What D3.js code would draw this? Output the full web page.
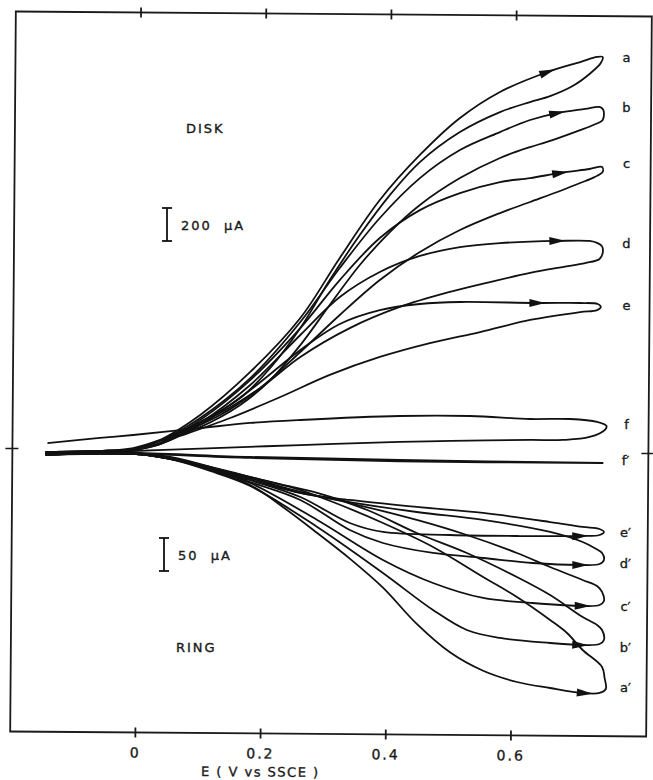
<!DOCTYPE html>
<html>
<head>
<meta charset="utf-8">
<script src="https://cdn.jsdelivr.net/npm/d3@7/dist/d3.min.js"></script>
<style>
  body { margin: 0; background: #fff; }
  svg text { font-family: 'DejaVu Sans', sans-serif; fill: #1a1a1a; stroke: #1a1a1a; stroke-width: 0.35px; }
</style>
</head>
<body>
<svg id="chart" width="653" height="780"></svg>
<script>
// E in V vs SSCE, current in uA. Each loop: forward scan, then the return scan.
const diskA = [[-0.148, -12], [-0.061, -6], [-0.008, 12], [0.035, 67], [0.099, 218], [0.179, 479], [0.259, 806], [0.322, 1170], [0.386, 1521], [0.450, 1794], [0.514, 2018], [0.578, 2176], [0.654, 2297], [0.706, 2357], [0.733, 2388], [0.742, 2388], [0.739, 2351],
  [0.721, 2285], [0.694, 2212], [0.658, 2151], [0.626, 2115], [0.578, 2054], [0.514, 1933], [0.450, 1751], [0.402, 1551], [0.354, 1309], [0.306, 1036], [0.259, 745], [0.211, 503], [0.163, 321], [0.099, 176], [0.035, 67], [-0.008, 18], [-0.061, 0], [-0.148, -6]]
const diskB = [[-0.148, -12], [-0.061, -6], [-0.008, 12], [0.035, 61], [0.099, 200], [0.179, 442], [0.259, 782], [0.322, 1109], [0.386, 1412], [0.450, 1654], [0.514, 1824], [0.578, 1933], [0.626, 2006], [0.669, 2048], [0.714, 2073], [0.737, 2085], [0.743, 2067], [0.742, 2006],
  [0.727, 1976], [0.706, 1945], [0.653, 1873], [0.626, 1842], [0.578, 1776], [0.514, 1654], [0.450, 1491], [0.402, 1327], [0.354, 1127], [0.306, 885], [0.259, 642], [0.211, 430], [0.163, 279], [0.099, 145], [0.035, 61], [-0.008, 12], [-0.061, 0], [-0.148, -6]]
const diskC = [[-0.148, -18], [-0.061, -6], [-0.008, 6], [0.035, 48], [0.099, 188], [0.179, 430], [0.259, 745], [0.322, 1036], [0.386, 1291], [0.450, 1460], [0.514, 1563], [0.578, 1630], [0.626, 1654], [0.674, 1685], [0.721, 1709], [0.741, 1721], [0.742, 1691], [0.729, 1660],
  [0.706, 1624], [0.678, 1582], [0.626, 1509], [0.578, 1442], [0.514, 1339], [0.450, 1206], [0.386, 1036], [0.322, 824], [0.259, 600], [0.195, 382], [0.131, 218], [0.067, 109], [0.019, 42], [-0.008, 12], [-0.061, 0], [-0.148, -6]]
const diskD = [[-0.148, -18], [-0.061, -12], [-0.008, 6], [0.035, 42], [0.099, 170], [0.179, 400], [0.259, 703], [0.322, 933], [0.386, 1085], [0.450, 1182], [0.514, 1236], [0.578, 1260], [0.669, 1273], [0.721, 1273], [0.734, 1260], [0.741, 1240], [0.742, 1200], [0.737, 1164],
  [0.714, 1139], [0.678, 1115], [0.626, 1079], [0.562, 1024], [0.498, 964], [0.418, 873], [0.338, 745], [0.259, 570], [0.195, 382], [0.131, 230], [0.067, 115], [0.019, 42], [-0.008, 12], [-0.061, 0], [-0.148, -6]]
const diskE = [[-0.148, -18], [-0.061, -12], [-0.008, 6], [0.035, 42], [0.099, 158], [0.179, 370], [0.259, 612], [0.322, 770], [0.386, 854], [0.450, 891], [0.514, 903], [0.637, 897], [0.706, 897], [0.734, 891], [0.739, 873], [0.733, 854],
  [0.706, 842], [0.626, 794], [0.546, 721], [0.466, 654], [0.386, 570], [0.306, 461], [0.227, 327], [0.147, 200], [0.067, 91], [0.019, 30], [-0.008, 12], [-0.061, 0], [-0.148, -6]]
const diskF = [[-0.145, 48], [-0.061, 79], [-0.008, 97], [0.099, 139], [0.179, 170], [0.259, 188], [0.418, 212], [0.530, 212], [0.626, 194], [0.690, 194], [0.733, 176], [0.748, 152], [0.746, 130],
  [0.721, 85], [0.678, 67], [0.626, 67], [0.500, 61], [0.418, 55], [0.259, 36], [0.099, 15], [-0.008, 0], [-0.148, -12]]

const ringA = [[-0.148, -6], [-0.008, -3], [0.051, -10.6], [0.115, -28.8], [0.179, -51.5], [0.231, -84.8], [0.286, -124.2], [0.338, -163], [0.391, -207], [0.445, -262], [0.498, -305], [0.551, -333], [0.605, -350], [0.658, -359.1], [0.710, -366.6], [0.737, -366.6], [0.747, -360.6], [0.745, -343.9],
  [0.741, -327.2], [0.710, -301.5], [0.685, -275.7], [0.658, -256.0], [0.605, -221.2], [0.551, -190.9], [0.471, -145.4], [0.391, -109.1], [0.311, -77.3], [0.243, -54.5], [0.179, -39.4], [0.099, -22.7], [0.035, -9.1], [-0.008, -4.5], [-0.148, -4.5]]
const ringB = [[-0.148, -6], [-0.008, -3], [0.051, -12.1], [0.115, -30.3], [0.179, -53.0], [0.286, -115.1], [0.391, -184.8], [0.471, -240.9], [0.525, -271.2], [0.578, -283.3], [0.658, -290.9], [0.710, -293.9], [0.737, -292.4], [0.744, -286.3], [0.741, -271.2],
  [0.733, -263.6], [0.710, -251.5], [0.658, -218.2], [0.605, -190.9], [0.525, -154.5], [0.445, -124.2], [0.366, -89.4], [0.286, -63.6], [0.211, -47.0], [0.115, -24.2], [0.035, -9.1], [-0.008, -4.5], [-0.148, -4.5]]
const ringC = [[-0.148, -6], [-0.008, -3], [0.051, -10.6], [0.115, -27.3], [0.179, -48.5], [0.286, -104.5], [0.391, -165.1], [0.471, -200.0], [0.551, -222.7], [0.630, -230.3], [0.710, -234.8], [0.737, -233.3], [0.744, -227.3], [0.741, -213.6],
  [0.733, -204.5], [0.710, -195.4], [0.658, -175.7], [0.605, -154.5], [0.525, -127.3], [0.445, -104.5], [0.338, -78.8], [0.259, -62.1], [0.179, -40.9], [0.099, -21.2], [0.035, -9.1], [-0.008, -4.5], [-0.148, -4.5]]
const ringD = [[-0.148, -6], [-0.008, -3], [0.051, -10.6], [0.115, -25.8], [0.179, -47.0], [0.259, -74.2], [0.338, -119.7], [0.391, -139.4], [0.471, -154.5], [0.551, -162.1], [0.630, -169.7], [0.706, -172.7], [0.737, -171.2], [0.744, -165.1], [0.741, -154.5],
  [0.729, -147.0], [0.710, -137.9], [0.658, -122.7], [0.551, -104.5], [0.445, -92.4], [0.338, -77.3], [0.259, -63.6], [0.179, -43.9], [0.099, -21.2], [0.035, -9.1], [-0.008, -4.5], [-0.148, -4.5]]
const ringE = [[-0.148, -6], [-0.008, -3], [0.051, -9.1], [0.115, -24.2], [0.179, -43.9], [0.259, -69.7], [0.338, -109.1], [0.391, -122.7], [0.498, -127.3], [0.605, -128.8], [0.706, -128.8], [0.737, -127.3], [0.744, -122.7], [0.737, -118.2],
  [0.710, -115.1], [0.658, -107.6], [0.551, -93.9], [0.445, -84.8], [0.338, -74.2], [0.259, -63.6], [0.179, -40.9], [0.099, -21.2], [0.035, -9.1], [-0.008, -4.5], [-0.148, -4.5]]
const ringF = [[-0.148, -4.5], [-0.008, -3], [0.179, -9], [0.418, -13.6], [0.742, -18.2], [0.418, -15.5], [0.179, -10.5], [-0.008, -4.5], [-0.148, -5.5]]

// where the arrowheads sit on the forward scans (V)
const diskArrowE = [0.654, 0.669, 0.674, 0.669, 0.637]
const ringArrowE = [0.713, 0.706, 0.710, 0.706, 0.706]

// right-hand curve labels and their current level
const diskLabels = ['a', 'b', 'c', 'd', 'e', 'f']
const diskLabelI = [2388, 2085, 1745, 1260, 885, 158]
const ringLabels = ['f\u2032', 'e\u2032', 'd\u2032', 'c\u2032', 'b\u2032', 'a\u2032']
const ringLabelI = [-14, -124, -170, -236, -297, -358]

const xTicks = [0, 0.2, 0.4, 0.6]
const xTickLabels = ['0', '0.2', '0.4', '0.6']

const svg = d3.select('#chart')
const plotTop = 14
const plotBottom = 734

const xScale = d3.scaleLinear().domain([-0.2, 0.816]).range([13, 649])
const yDisk = d3.scaleLinear().domain([0, 200]).range([451, 418])
const yRing = d3.scaleLinear().domain([0, -50]).range([451, 484])

// the scanned frame sits a little skewed
const frame = svg.append('g').attr('transform', 'rotate(0.45, 331, 374)')
const [x0, x1] = xScale.range()

frame.append('rect')
  .attr('x', x0)
  .attr('y', plotTop)
  .attr('width', x1 - x0)
  .attr('height', plotBottom - plotTop)
  .attr('fill', 'none')
  .attr('stroke', '#1a1a1a')
  .attr('stroke-width', 1.8)

frame.selectAll('line.tick')
  .data(xTicks.flatMap(t => [[t, plotTop], [t, plotBottom]]))
  .enter().append('line')
  .attr('class', 'tick')
  .attr('x1', d => xScale(d[0]))
  .attr('x2', d => xScale(d[0]))
  .attr('y1', d => d[1] - 5)
  .attr('y2', d => d[1] + 5)
  .attr('stroke', '#1a1a1a')
  .attr('stroke-width', 1.8)

// zero marks on both sides
frame.selectAll('line.zero')
  .data([x0, x1])
  .enter().append('line')
  .attr('class', 'zero')
  .attr('x1', d => d - 7)
  .attr('x2', d => d + 6)
  .attr('y1', yDisk(0))
  .attr('y2', yDisk(0))
  .attr('stroke', '#1a1a1a')
  .attr('stroke-width', 1.6)

frame.selectAll('text.tickLabel')
  .data(xTicks)
  .enter().append('text')
  .attr('class', 'tickLabel')
  .attr('x', d => xScale(d))
  .attr('y', plotBottom + 25)
  .attr('text-anchor', 'middle')
  .style('font-size', '14px')
  .style('letter-spacing', '2px')
  .text((d, i) => xTickLabels[i])

frame.append('text')
  .attr('x', xScale(0.2))
  .attr('y', plotBottom + 43)
  .attr('text-anchor', 'middle')
  .style('font-size', '13px')
  .style('letter-spacing', '1.5px')
  .text('E ( V vs SSCE )')

// curves
const lineDisk = d3.line()
  .x(d => xScale(d[0]))
  .y(d => yDisk(d[1]))
  .curve(d3.curveCatmullRom.alpha(0.5))
const lineRing = d3.line()
  .x(d => xScale(d[0]))
  .y(d => yRing(d[1]))
  .curve(d3.curveCatmullRom.alpha(0.5))

const curvesG = svg.append('g')
  .attr('fill', 'none')
  .attr('stroke', '#111')
  .attr('stroke-width', 1.8)
  .attr('stroke-linejoin', 'round')

const diskLoops = [diskA, diskB, diskC, diskD, diskE, diskF]
const ringLoops = [ringA, ringB, ringC, ringD, ringE, ringF]

const diskPaths = diskLoops.map(pts => curvesG.append('path').attr('d', lineDisk(pts)).node())
const ringPaths = ringLoops.map(pts => curvesG.append('path').attr('d', lineRing(pts)).node())

function arrowAt (node, px) {
  const len = node.getTotalLength()
  let l = 0
  while (l < len && node.getPointAtLength(l).x < px) l += 0.5
  const p = node.getPointAtLength(l)
  const p0 = node.getPointAtLength(Math.max(0, l - 5))
  return { x: p.x, y: p.y, angle: Math.atan2(p.y - p0.y, p.x - p0.x) * 180 / Math.PI }
}

const arrows = diskArrowE.map((e, i) => arrowAt(diskPaths[i], xScale(e)))
  .concat(ringArrowE.map((e, i) => arrowAt(ringPaths[i], xScale(e))))

svg.selectAll('path.arrow')
  .data(arrows)
  .enter().append('path')
  .attr('class', 'arrow')
  .attr('d', 'M8,0 L-8,-4 L-8,4 Z')
  .attr('fill', '#111')
  .attr('transform', d => `translate(${d.x},${d.y}) rotate(${d.angle})`)

// labels
const labelX = xScale(0.78)
svg.selectAll('text.diskLabel')
  .data(diskLabels)
  .enter().append('text')
  .attr('class', 'diskLabel')
  .attr('x', labelX)
  .attr('y', (d, i) => yDisk(diskLabelI[i]))
  .attr('dy', '0.35em')
  .attr('text-anchor', 'middle')
  .style('font-size', '13px')
  .text(d => d)

svg.selectAll('text.ringLabel')
  .data(ringLabels)
  .enter().append('text')
  .attr('class', 'ringLabel')
  .attr('x', labelX - 1)
  .attr('y', (d, i) => yRing(ringLabelI[i]))
  .attr('dy', '0.35em')
  .attr('text-anchor', 'middle')
  .style('font-size', '13px')
  .text(d => d)

svg.append('text')
  .attr('x', 186)
  .attr('y', 133)
  .style('font-size', '13px')
  .style('letter-spacing', '2px')
  .text('DISK')

svg.append('text')
  .attr('x', 176)
  .attr('y', 652)
  .style('font-size', '13px')
  .style('letter-spacing', '2px')
  .text('RING')

// current scale bars
function scaleBar (x, top, len, label) {
  const g = svg.append('g').attr('stroke', '#111').attr('stroke-width', 1.8)
  g.append('line').attr('x1', x).attr('x2', x).attr('y1', top).attr('y2', top + len)
  g.append('line').attr('x1', x - 5).attr('x2', x + 5).attr('y1', top).attr('y2', top)
  g.append('line').attr('x1', x - 5).attr('x2', x + 5).attr('y1', top + len).attr('y2', top + len)
  svg.append('text')
    .attr('x', x + 14)
    .attr('y', top + len / 2 + 5)
    .style('font-size', '13px')
    .style('letter-spacing', '2px')
    .style('white-space', 'pre')
    .text(label)
}
scaleBar(167, 208, yDisk(0) - yDisk(200), '200  \u00b5A')
scaleBar(164, 538, yRing(-50) - yRing(0), '50  \u00b5A')
</script>
</body>
</html>
